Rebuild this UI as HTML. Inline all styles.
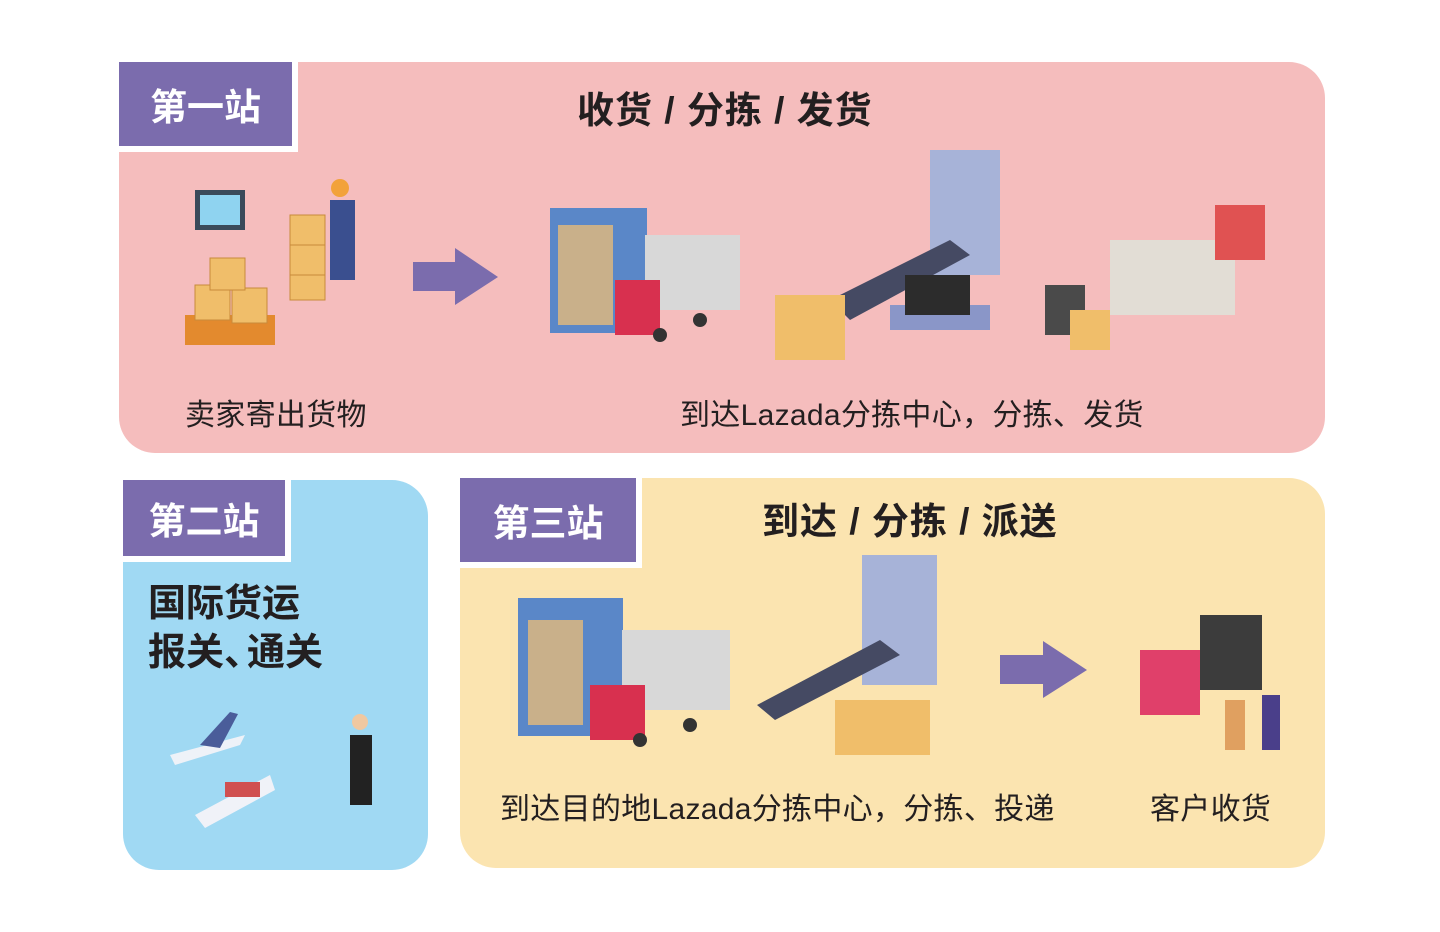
<!DOCTYPE html>
<html><head><meta charset="utf-8"><style>
*{margin:0;padding:0;box-sizing:border-box}
body{width:1440px;height:932px;background:#fff;position:relative;overflow:hidden;font-family:"Liberation Sans","Noto Sans CJK SC",sans-serif;color:#231f20}
.p{position:absolute}
.panel{position:absolute;border-radius:0 36px 36px 36px}
.lab{position:absolute;background:#7b6cad;color:#fff;font-weight:bold;font-size:37px;display:flex;align-items:center;justify-content:center;border-right:6px solid #fff;border-bottom:6px solid #fff}
.t{position:absolute;white-space:nowrap}
.title{font-weight:bold;font-size:37px;letter-spacing:1px}
.cap{font-size:30px;letter-spacing:0.3px}
</style></head><body>
<div class="panel" style="left:119px;top:62px;width:1206px;height:391px;background:#f5bdbd"></div>
<div class="lab" style="left:119px;top:62px;width:179px;height:90px">第一站</div>
<div class="t title" style="left:577px;top:80px">收货 / 分拣 / 发货</div>
<div class="t cap" style="left:185px;top:390px">卖家寄出货物</div>
<div class="t cap" style="left:680px;top:390px">到达Lazada分拣中心，分拣、发货</div>

<div class="panel" style="left:123px;top:480px;width:305px;height:390px;background:#a0d9f3"></div>
<div class="lab" style="left:123px;top:480px;width:168px;height:82px">第二站</div>
<div class="t title" style="left:148px;top:580px;line-height:49px;font-size:38px;letter-spacing:0">国际货运<br>报关<span style="letter-spacing:-15px">、</span>通关</div>

<div class="panel" style="left:460px;top:478px;width:865px;height:390px;background:#fbe4b0"></div>
<div class="lab" style="left:460px;top:478px;width:182px;height:90px">第三站</div>
<div class="t title" style="left:762px;top:491px">到达 / 分拣 / 派送</div>
<div class="t cap" style="left:500px;top:784px">到达目的地Lazada分拣中心，分拣、投递</div>
<div class="t cap" style="left:1150px;top:784px">客户收货</div>

<svg class="p" style="left:0;top:0" width="1440" height="932">
<g fill="#7b6cad">
<polygon points="413,262 455,262 455,248 498,277 455,305 455,291 413,291"/>
<polygon points="1000,655 1043,655 1043,641 1087,670 1043,698 1043,684 1000,684"/>
</g>
<rect x="195" y="190" width="50" height="40" fill="#3a4a5a"/><rect x="200" y="195" width="40" height="30" fill="#8fd3f0"/>
<rect x="185" y="315" width="90" height="30" fill="#e38a2e"/>
<g fill="#f0be6a" stroke="#c88a3a"><rect x="195" y="285" width="35" height="35"/><rect x="232" y="288" width="35" height="35"/><rect x="210" y="258" width="35" height="32"/><rect x="290" y="215" width="35" height="30"/><rect x="290" y="245" width="35" height="30"/><rect x="290" y="275" width="35" height="25"/></g>
<rect x="330" y="200" width="25" height="80" fill="#3a4f8f"/><circle cx="340" cy="188" r="9" fill="#f2a23a"/>
<rect x="550" y="208" width="97" height="125" fill="#5a87c8"/><rect x="558" y="225" width="55" height="100" fill="#c9b08a"/>
<rect x="645" y="235" width="95" height="75" fill="#d8d8d8"/><rect x="615" y="280" width="45" height="55" fill="#d8304f"/>
<circle cx="660" cy="335" r="7" fill="#333"/><circle cx="700" cy="320" r="7" fill="#333"/>
<rect x="930" y="150" width="70" height="125" fill="#a7b3d8"/>
<polygon points="830,300 950,240 970,255 850,320" fill="#454a63"/>
<rect x="775" y="295" width="70" height="65" fill="#f0be6a"/>
<rect x="890" y="305" width="100" height="25" fill="#8a96c8"/><rect x="905" y="275" width="65" height="40" fill="#2c2c2c"/>
<rect x="1110" y="240" width="125" height="75" fill="#e2ddd5"/><rect x="1215" y="205" width="50" height="55" fill="#e05252"/>
<rect x="1045" y="285" width="40" height="50" fill="#4a4a4a"/><rect x="1070" y="310" width="40" height="40" fill="#f0be6a"/>
<polygon points="170,755 245,735 240,745 175,765" fill="#eef2f8"/><polygon points="200,745 230,712 238,714 220,748" fill="#4a5d9a"/>
<polygon points="195,815 270,775 275,790 205,828" fill="#f0f2f8"/><rect x="225" y="782" width="35" height="15" fill="#d05050"/>
<rect x="350" y="735" width="22" height="70" fill="#222"/><circle cx="360" cy="722" r="8" fill="#f0c8a0"/>
<rect x="518" y="598" width="105" height="138" fill="#5a87c8"/><rect x="528" y="620" width="55" height="105" fill="#c9b08a"/>
<rect x="622" y="630" width="108" height="80" fill="#d8d8d8"/><rect x="590" y="685" width="55" height="55" fill="#d8304f"/>
<circle cx="640" cy="740" r="7" fill="#333"/><circle cx="690" cy="725" r="7" fill="#333"/>
<rect x="862" y="555" width="75" height="130" fill="#a7b3d8"/>
<polygon points="757,705 880,640 900,655 775,720" fill="#454a63"/>
<rect x="835" y="700" width="95" height="55" fill="#f0be6a"/>
<rect x="1200" y="615" width="62" height="75" fill="#3c3c3c"/><rect x="1140" y="650" width="60" height="65" fill="#e0406a"/>
<rect x="1225" y="700" width="20" height="50" fill="#e0a060"/><rect x="1262" y="695" width="18" height="55" fill="#4a3f8a"/>
</svg>
</body></html>
